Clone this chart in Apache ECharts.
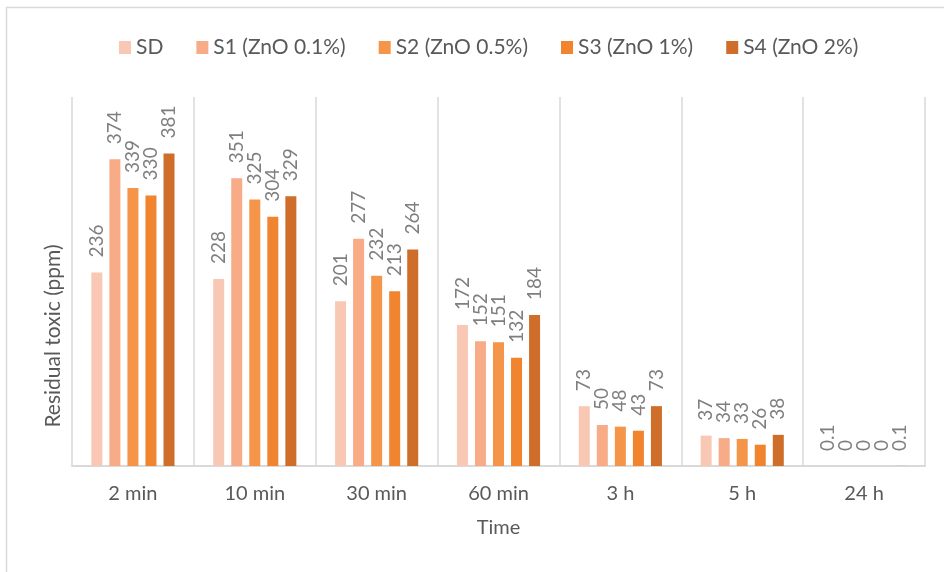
<!DOCTYPE html>
<html>
<head>
<meta charset="utf-8">
<script src="https://cdn.jsdelivr.net/npm/echarts@6/dist/echarts.min.js"></script>
<style>
  html, body { margin: 0; padding: 0; background: #fff; }
  #chart { width: 944px; height: 572px; }
</style>
</head>
<body>
<div id="chart"></div>
<script>
// Sampling times
const times = ['2 min', '10 min', '30 min', '60 min', '3 h', '5 h', '24 h'];

// Residual toxic concentration (ppm) per sample
const sd = [236, 228, 201, 172, 73, 37, 0.1];
const s1 = [374, 351, 277, 152, 50, 34, 0];
const s2 = [339, 325, 232, 151, 48, 33, 0];
const s3 = [330, 304, 213, 132, 43, 26, 0];
const s4 = [381, 329, 264, 184, 73, 38, 0.1];

const seriesNames = ['SD', 'S1 (ZnO 0.1%)', 'S2 (ZnO 0.5%)', 'S3 (ZnO 1%)', 'S4 (ZnO 2%)'];
const seriesData = [sd, s1, s2, s3, s4];
const colors = ['#f9c8b4', '#f7ab87', '#f4954a', '#f0842f', '#cf6d2a'];

const FONT = 'Lato, "Open Sans", sans-serif';

const chart = echarts.init(document.getElementById('chart'), null, { renderer: 'canvas' });

chart.setOption({
  animation: false,
  backgroundColor: '#ffffff',
  color: colors,
  textStyle: { fontFamily: FONT },
  graphic: [
    {
      type: 'rect',
      shape: { x: 6.5, y: 7.5, width: 1000, height: 700 },
      style: { fill: 'none', stroke: '#d9d9d9', lineWidth: 1.5 },
      silent: true
    },
    {
      type: 'text',
      x: 53,
      y: 336,
      rotation: Math.PI / 2,
      style: {
        text: 'Residual toxic (ppm)',
        fill: '#595959',
        font: '21px ' + FONT,
        align: 'center',
        verticalAlign: 'middle'
      }
    }
  ],
  legend: {
    top: 32,
    left: 114,
    itemWidth: 12,
    itemHeight: 13,
    itemGap: 33,
    icon: 'rect',
    textStyle: { fontSize: 21, color: '#595959', fontFamily: FONT },
    data: seriesNames
  },
  grid: { left: 72, right: 19, top: 97, bottom: 106 },
  xAxis: {
    type: 'category',
    data: times,
    boundaryGap: true,
    name: 'Time',
    nameLocation: 'middle',
    nameGap: 52,
    nameTextStyle: { fontSize: 20, color: '#595959', fontFamily: FONT },
    axisLine: { show: true, lineStyle: { color: '#d9d9d9', width: 2 } },
    axisTick: { show: false },
    axisLabel: { fontSize: 20, color: '#595959', margin: 18, fontFamily: FONT },
    splitLine: { show: true, lineStyle: { color: '#d9d9d9', width: 1.5 } }
  },
  yAxis: {
    type: 'value',
    min: 0,
    max: 450,
    show: true,
    axisLine: { show: false },
    axisTick: { show: false },
    axisLabel: { show: false },
    splitLine: { show: false }
  },
  series: seriesNames.map((name, i) => ({
    name: name,
    type: 'bar',
    data: seriesData[i],
    barWidth: 11,
    barGap: '64%',
    itemStyle: { color: colors[i] },
    label: {
      show: true,
      position: 'top',
      rotate: 90,
      align: 'left',
      verticalAlign: 'middle',
      distance: 15,
      fontSize: 19,
      color: '#7f7f7f',
      fontFamily: FONT
    }
  }))
});
</script>
</body>
</html>
